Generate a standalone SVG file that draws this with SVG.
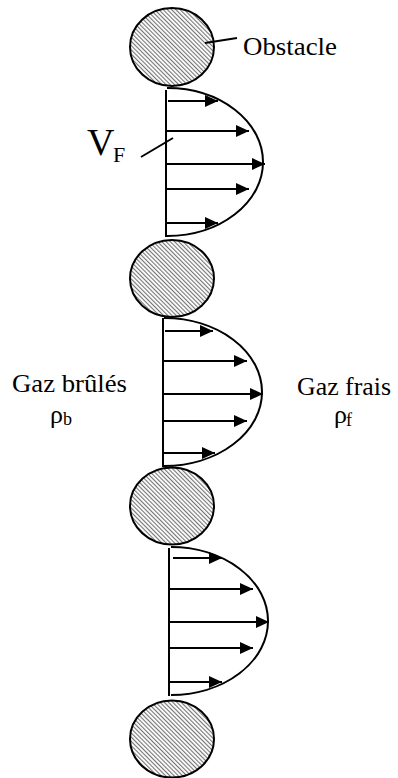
<svg xmlns="http://www.w3.org/2000/svg" width="398" height="778" viewBox="0 0 398 778">
<defs>
<pattern id="hatch" width="3" height="3" patternUnits="userSpaceOnUse" patternTransform="rotate(-45)">
<rect width="3" height="3" fill="#ffffff"/>
<line x1="0.6" y1="0" x2="0.6" y2="3" stroke="#666" stroke-width="1"/>
</pattern>
<marker id="ah" markerUnits="userSpaceOnUse" markerWidth="14" markerHeight="12" refX="13" refY="6" orient="auto">
<path d="M0,0 L13,6 L0,12 z" fill="#000"/>
</marker>
</defs>
<style>
.obs{fill:url(#hatch);stroke:#000;stroke-width:2}
.ln{stroke:#000;stroke-width:2;fill:none}
.ar{stroke:#000;stroke-width:2;fill:none;marker-end:url(#ah)}
.t{fill:#000;font-family:"Liberation Serif","Times New Roman",serif}
</style>
<g id="obstacle1"><ellipse class="obs" cx="172" cy="47" rx="42" ry="39"/></g>
<g id="obstacle2"><ellipse class="obs" cx="172" cy="278.5" rx="42" ry="38.5"/></g>
<g id="obstacle3"><ellipse class="obs" cx="172" cy="506" rx="42" ry="38.5"/></g>
<g id="obstacle4"><ellipse class="obs" cx="172" cy="739" rx="42" ry="38.5"/></g>
<g id="profile1">
<line class="ln" x1="166" y1="90" x2="166" y2="237"/>
<path class="ln" d="M167,88 A96,74 0 0 1 167,236"/>
<line class="ar" x1="168" y1="101" x2="218" y2="101"/>
<line class="ar" x1="166" y1="131" x2="249" y2="131"/>
<line class="ar" x1="166" y1="164" x2="265" y2="164"/>
<line class="ar" x1="166" y1="189" x2="249" y2="189"/>
<line class="ar" x1="166" y1="223" x2="218" y2="223"/>
</g>
<g id="profile2">
<line class="ln" x1="163" y1="318" x2="163" y2="467"/>
<path class="ln" d="M164,318 A98,74 0 0 1 164,466"/>
<line class="ar" x1="165" y1="331" x2="213" y2="331"/>
<line class="ar" x1="163" y1="361" x2="247" y2="361"/>
<line class="ar" x1="163" y1="394" x2="263" y2="394"/>
<line class="ar" x1="163" y1="421" x2="247" y2="421"/>
<line class="ar" x1="163" y1="453" x2="215" y2="453"/>
</g>
<g id="profile3">
<line class="ln" x1="169" y1="548" x2="169" y2="696"/>
<path class="ln" d="M171,547 A97,74 0 0 1 171,695"/>
<line class="ar" x1="173" y1="558" x2="222" y2="558"/>
<line class="ar" x1="169" y1="589" x2="253" y2="589"/>
<line class="ar" x1="169" y1="622" x2="269" y2="622"/>
<line class="ar" x1="169" y1="648" x2="253" y2="648"/>
<line class="ar" x1="169" y1="682" x2="222" y2="682"/>
</g>
<g id="labels">
<line class="ln" x1="205" y1="43" x2="237" y2="38" stroke-width="1.5"/>
<text class="t" x="243" y="55" font-size="26" textLength="94" lengthAdjust="spacingAndGlyphs">Obstacle</text>
<line class="ln" x1="141" y1="157" x2="173" y2="138" stroke-width="1.5"/>
<text class="t" x="87" y="155" font-size="38">V</text>
<text class="t" x="113" y="162" font-size="22">F</text>
<text class="t" x="12" y="392" font-size="26" textLength="115" lengthAdjust="spacingAndGlyphs">Gaz brûlés</text>
<text class="t" x="50" y="423" font-size="26">ρ</text>
<text class="t" x="63" y="425" font-size="18">b</text>
<text class="t" x="297" y="395" font-size="26" textLength="94" lengthAdjust="spacingAndGlyphs">Gaz frais</text>
<text class="t" x="334" y="423" font-size="26">ρ</text>
<text class="t" x="346" y="426" font-size="18">f</text>
</g>
</svg>
